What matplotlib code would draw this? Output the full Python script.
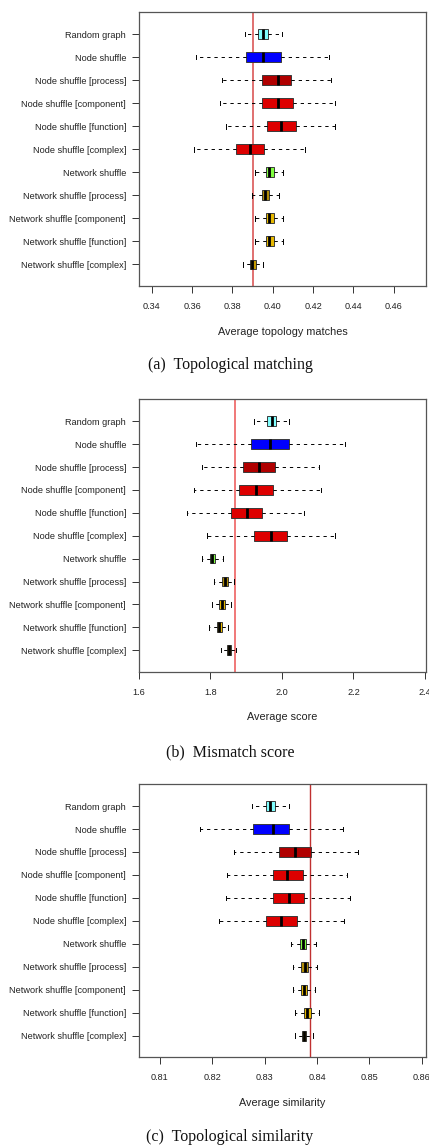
import matplotlib
matplotlib.use('Agg')
import matplotlib.pyplot as plt

plt.rcParams['font.family'] = ['Liberation Sans', 'DejaVu Sans']

labels = ['Random graph', 'Node shuffle', 'Node shuffle [process]',
          'Node shuffle [component]', 'Node shuffle [function]',
          'Node shuffle [complex]', 'Network shuffle',
          'Network shuffle [process]', 'Network shuffle [component]',
          'Network shuffle [function]', 'Network shuffle [complex]']
colors = ['#80FFFF', '#0000FF', '#B00000', '#DD0000', '#DD0000', '#DD0000',
          '#80FF40', '#B08C08', '#E6B800', '#E6B800', '#C49A00']

# (a) topological matching
a_lo = [0.3863, 0.3618, 0.3747, 0.3737, 0.3767, 0.3611, 0.3914, 0.3898, 0.3913, 0.3914, 0.3855]
a_q1 = [0.3928, 0.3868, 0.3949, 0.3946, 0.3972, 0.3817, 0.3966, 0.3949, 0.3966, 0.3966, 0.3886]
a_med = [0.3954, 0.3954, 0.4027, 0.4027, 0.4040, 0.3886, 0.3984, 0.3964, 0.3982, 0.3984, 0.3899]
a_q3 = [0.3976, 0.4042, 0.4091, 0.4101, 0.4115, 0.3957, 0.4005, 0.3982, 0.4004, 0.4004, 0.3916]
a_hi = [0.4045, 0.4281, 0.4291, 0.4310, 0.4311, 0.4161, 0.4052, 0.4032, 0.4050, 0.4050, 0.3951]
a_ref = 0.3904

# (b) mismatch score
b_lo = [1.922, 1.7605, 1.775, 1.755, 1.735, 1.791, 1.777, 1.811, 1.8045, 1.797, 1.8305]
b_q1 = [1.9585, 1.912, 1.892, 1.881, 1.8586, 1.923, 1.798, 1.833, 1.824, 1.8176, 1.8457]
b_med = [1.972, 1.966, 1.936, 1.9286, 1.9025, 1.968, 1.805, 1.841, 1.8317, 1.824, 1.851]
b_q3 = [1.9846, 2.019, 1.980, 1.9745, 1.9437, 2.0146, 1.813, 1.8485, 1.840, 1.8317, 1.857]
b_hi = [2.020, 2.176, 2.103, 2.110, 2.062, 2.147, 1.834, 1.867, 1.8586, 1.850, 1.8726]
b_ref = 1.868

# (c) topological similarity
c_lo = [0.82765, 0.81765, 0.82415, 0.82281, 0.82262, 0.82134, 0.8350, 0.83537, 0.83537, 0.83575, 0.83587]
c_q1 = [0.83020, 0.82772, 0.8328, 0.83154, 0.83154, 0.8302, 0.83683, 0.83702, 0.8369, 0.83759, 0.83715]
c_med = [0.83109, 0.83161, 0.8358, 0.83434, 0.8346, 0.83313, 0.83728, 0.83767, 0.83753, 0.83817, 0.83753]
c_q3 = [0.83204, 0.83466, 0.83887, 0.83734, 0.83753, 0.83625, 0.83797, 0.83836, 0.8381, 0.83893, 0.83797]
c_hi = [0.83466, 0.84493, 0.84773, 0.84581, 0.84633, 0.84512, 0.83977, 0.83996, 0.8397, 0.8404, 0.83931]
c_ref = 0.8387

panels = [
    (a_lo, a_q1, a_med, a_q3, a_hi, a_ref, '#E07070', 1.4, (0.3337, 0.4760),
     [0.34, 0.36, 0.38, 0.40, 0.42, 0.44, 0.46], '%.2f',
     'Average topology matches', '(a)  Topological matching', 12, 286, 365),
    (b_lo, b_q1, b_med, b_q3, b_hi, b_ref, '#F07878', 1.4, (1.6, 2.403),
     [1.6, 1.8, 2.0, 2.2, 2.4], '%.1f',
     'Average score', '(b)  Mismatch score', 399.3, 671.7, 752.7),
    (c_lo, c_q1, c_med, c_q3, c_hi, c_ref, '#C03030', 1.0, (0.806, 0.8608),
     [0.81, 0.82, 0.83, 0.84, 0.85, 0.86], '%.2f',
     'Average similarity', '(c)  Topological similarity', 784, 1057.3, 1136.7),
]

W, H = 429, 1145
fig = plt.figure(figsize=(W / 100, H / 100), dpi=100)

n = len(labels)
pos = list(range(n, 0, -1))

for lo, q1, med, q3, hi, ref, refc, reflw, xlim, ticks, fmt, xlab, cap, top, bot, capy in panels:
    ax = fig.add_axes([139 / W, 1 - bot / H, (426 - 139) / W, (bot - top) / H])
    stats = [dict(whislo=lo[i], q1=q1[i], med=med[i], q3=q3[i], whishi=hi[i],
                  fliers=[], label=labels[i]) for i in range(n)]
    bp = ax.bxp(stats, positions=pos, orientation='horizontal', widths=0.42,
                capwidths=0.2, patch_artist=True, showfliers=False,
                boxprops=dict(edgecolor='#3a3a3a', linewidth=0.7),
                medianprops=dict(color='black', linewidth=2.0),
                whiskerprops=dict(color='black', linewidth=0.7, linestyle=(0, (3.4, 4))),
                capprops=dict(color='black', linewidth=0.7))
    for patch, c in zip(bp['boxes'], colors):
        patch.set_facecolor(c)
    ax.axvline(ref, color=refc, linewidth=reflw, zorder=0)

    ax.set_xlim(*xlim)
    ax.set_ylim(0.06, 11.96)
    ax.set_xticks(ticks)
    ax.set_xticklabels([fmt % t for t in ticks])
    ax.tick_params(axis='both', labelsize=6.6, length=5, width=0.7,
                   color='#333333', labelcolor='#222222')
    ax.tick_params(axis='x', pad=6.5)
    ax.tick_params(axis='y', pad=4.3)
    for s in ax.spines.values():
        s.set_color('#555555')
        s.set_linewidth(0.9)

    ax.set_xlabel(xlab, fontsize=7.8, color='#222222')
    ax.xaxis.set_label_coords(0.5, -(331.7 - 286) / (286 - 12))
    ax.xaxis.label.set_va('center')

    fig.text(230 / W, 1 - capy / H, cap, ha='center', va='center',
             fontsize=11.5, family='Liberation Serif', color='#111111')

plt.savefig('out.png', dpi=100)
